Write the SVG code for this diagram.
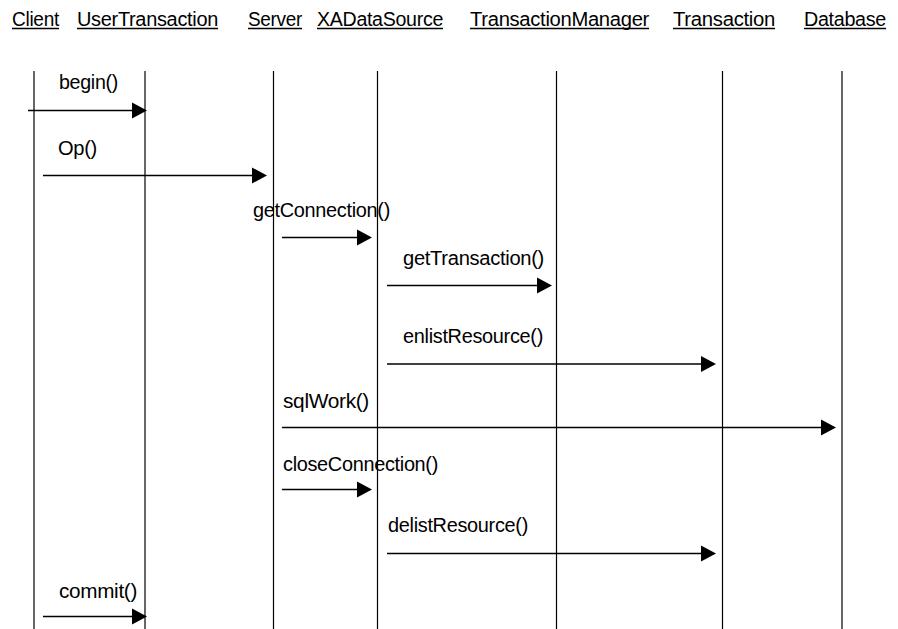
<svg xmlns="http://www.w3.org/2000/svg" width="898" height="629" viewBox="0 0 898 629">
<style>
text{font-family:"Liberation Sans",Arial,sans-serif;font-size:19.5px;fill:#000;letter-spacing:-0.3px}
.ul{stroke:#000;stroke-width:1.3}
.life{stroke:#000;stroke-width:1.2}
.msg{stroke:#000;stroke-width:1.3;fill:none}
.head{fill:#000}
</style>
<rect width="898" height="629" fill="#fff"/>
<g id="Client"><text x="12" y="26" textLength="47" lengthAdjust="spacingAndGlyphs">Client</text><line class="ul" x1="12" y1="28.5" x2="59" y2="28.5"/><line class="life" x1="34" y1="71" x2="34" y2="629"/></g>
<g id="UserTransaction"><text x="77" y="26" textLength="141" lengthAdjust="spacingAndGlyphs">UserTransaction</text><line class="ul" x1="77" y1="28.5" x2="218" y2="28.5"/><line class="life" x1="145" y1="71" x2="145" y2="629"/></g>
<g id="Server"><text x="248" y="26" textLength="54" lengthAdjust="spacingAndGlyphs">Server</text><line class="ul" x1="248" y1="28.5" x2="302" y2="28.5"/><line class="life" x1="273.5" y1="71" x2="273.5" y2="629"/></g>
<g id="XADataSource"><text x="317" y="26" textLength="126" lengthAdjust="spacingAndGlyphs">XADataSource</text><line class="ul" x1="317" y1="28.5" x2="443" y2="28.5"/><line class="life" x1="377.5" y1="71" x2="377.5" y2="629"/></g>
<g id="TransactionManager"><text x="470" y="26" textLength="179" lengthAdjust="spacingAndGlyphs">TransactionManager</text><line class="ul" x1="470" y1="28.5" x2="649" y2="28.5"/><line class="life" x1="556.5" y1="71" x2="556.5" y2="629"/></g>
<g id="Transaction"><text x="673" y="26" textLength="102" lengthAdjust="spacingAndGlyphs">Transaction</text><line class="ul" x1="673" y1="28.5" x2="775" y2="28.5"/><line class="life" x1="722.5" y1="71" x2="722.5" y2="629"/></g>
<g id="Database"><text x="804" y="26" textLength="82" lengthAdjust="spacingAndGlyphs">Database</text><line class="ul" x1="804" y1="28.5" x2="886" y2="28.5"/><line class="life" x1="842" y1="71" x2="842" y2="629"/></g>
<g id="connectors">
<g id="m-begin"><text x="59" y="89" textLength="59" lengthAdjust="spacingAndGlyphs">begin()</text><line class="msg" x1="28" y1="110.5" x2="134" y2="110.5"/><polygon class="head" points="132,102.5 147,110.5 132,118.5"/></g>
<g id="m-op"><text x="58" y="155" textLength="39" lengthAdjust="spacingAndGlyphs">Op()</text><line class="msg" x1="43" y1="175.5" x2="254" y2="175.5"/><polygon class="head" points="252,167.5 267,175.5 252,183.5"/></g>
<g id="m-getConnection"><text x="253" y="217" textLength="137" lengthAdjust="spacingAndGlyphs">getConnection()</text><line class="msg" x1="282" y1="237.5" x2="359" y2="237.5"/><polygon class="head" points="357,229.5 372,237.5 357,245.5"/></g>
<g id="m-getTransaction"><text x="403" y="265" textLength="141" lengthAdjust="spacingAndGlyphs">getTransaction()</text><line class="msg" x1="387" y1="285.5" x2="539" y2="285.5"/><polygon class="head" points="537,277.5 552,285.5 537,293.5"/></g>
<g id="m-enlistResource"><text x="403" y="343" textLength="140" lengthAdjust="spacingAndGlyphs">enlistResource()</text><line class="msg" x1="387" y1="364" x2="703" y2="364"/><polygon class="head" points="701,356 716,364 701,372"/></g>
<g id="m-sqlWork"><text x="283" y="408" textLength="86" lengthAdjust="spacingAndGlyphs">sqlWork()</text><line class="msg" x1="282" y1="427.5" x2="823" y2="427.5"/><polygon class="head" points="821,419.5 836,427.5 821,435.5"/></g>
<g id="m-closeConnection"><text x="283" y="471" textLength="155" lengthAdjust="spacingAndGlyphs">closeConnection()</text><line class="msg" x1="282" y1="489.5" x2="359" y2="489.5"/><polygon class="head" points="357,481.5 372,489.5 357,497.5"/></g>
<g id="m-delistResource"><text x="388" y="532" textLength="140" lengthAdjust="spacingAndGlyphs">delistResource()</text><line class="msg" x1="387" y1="553.5" x2="703" y2="553.5"/><polygon class="head" points="701,545.5 716,553.5 701,561.5"/></g>
<g id="m-commit"><text x="59" y="598" textLength="78" lengthAdjust="spacingAndGlyphs">commit()</text><line class="msg" x1="43" y1="616.5" x2="134" y2="616.5"/><polygon class="head" points="132,608.5 147,616.5 132,624.5"/></g>
</g>
</svg>
